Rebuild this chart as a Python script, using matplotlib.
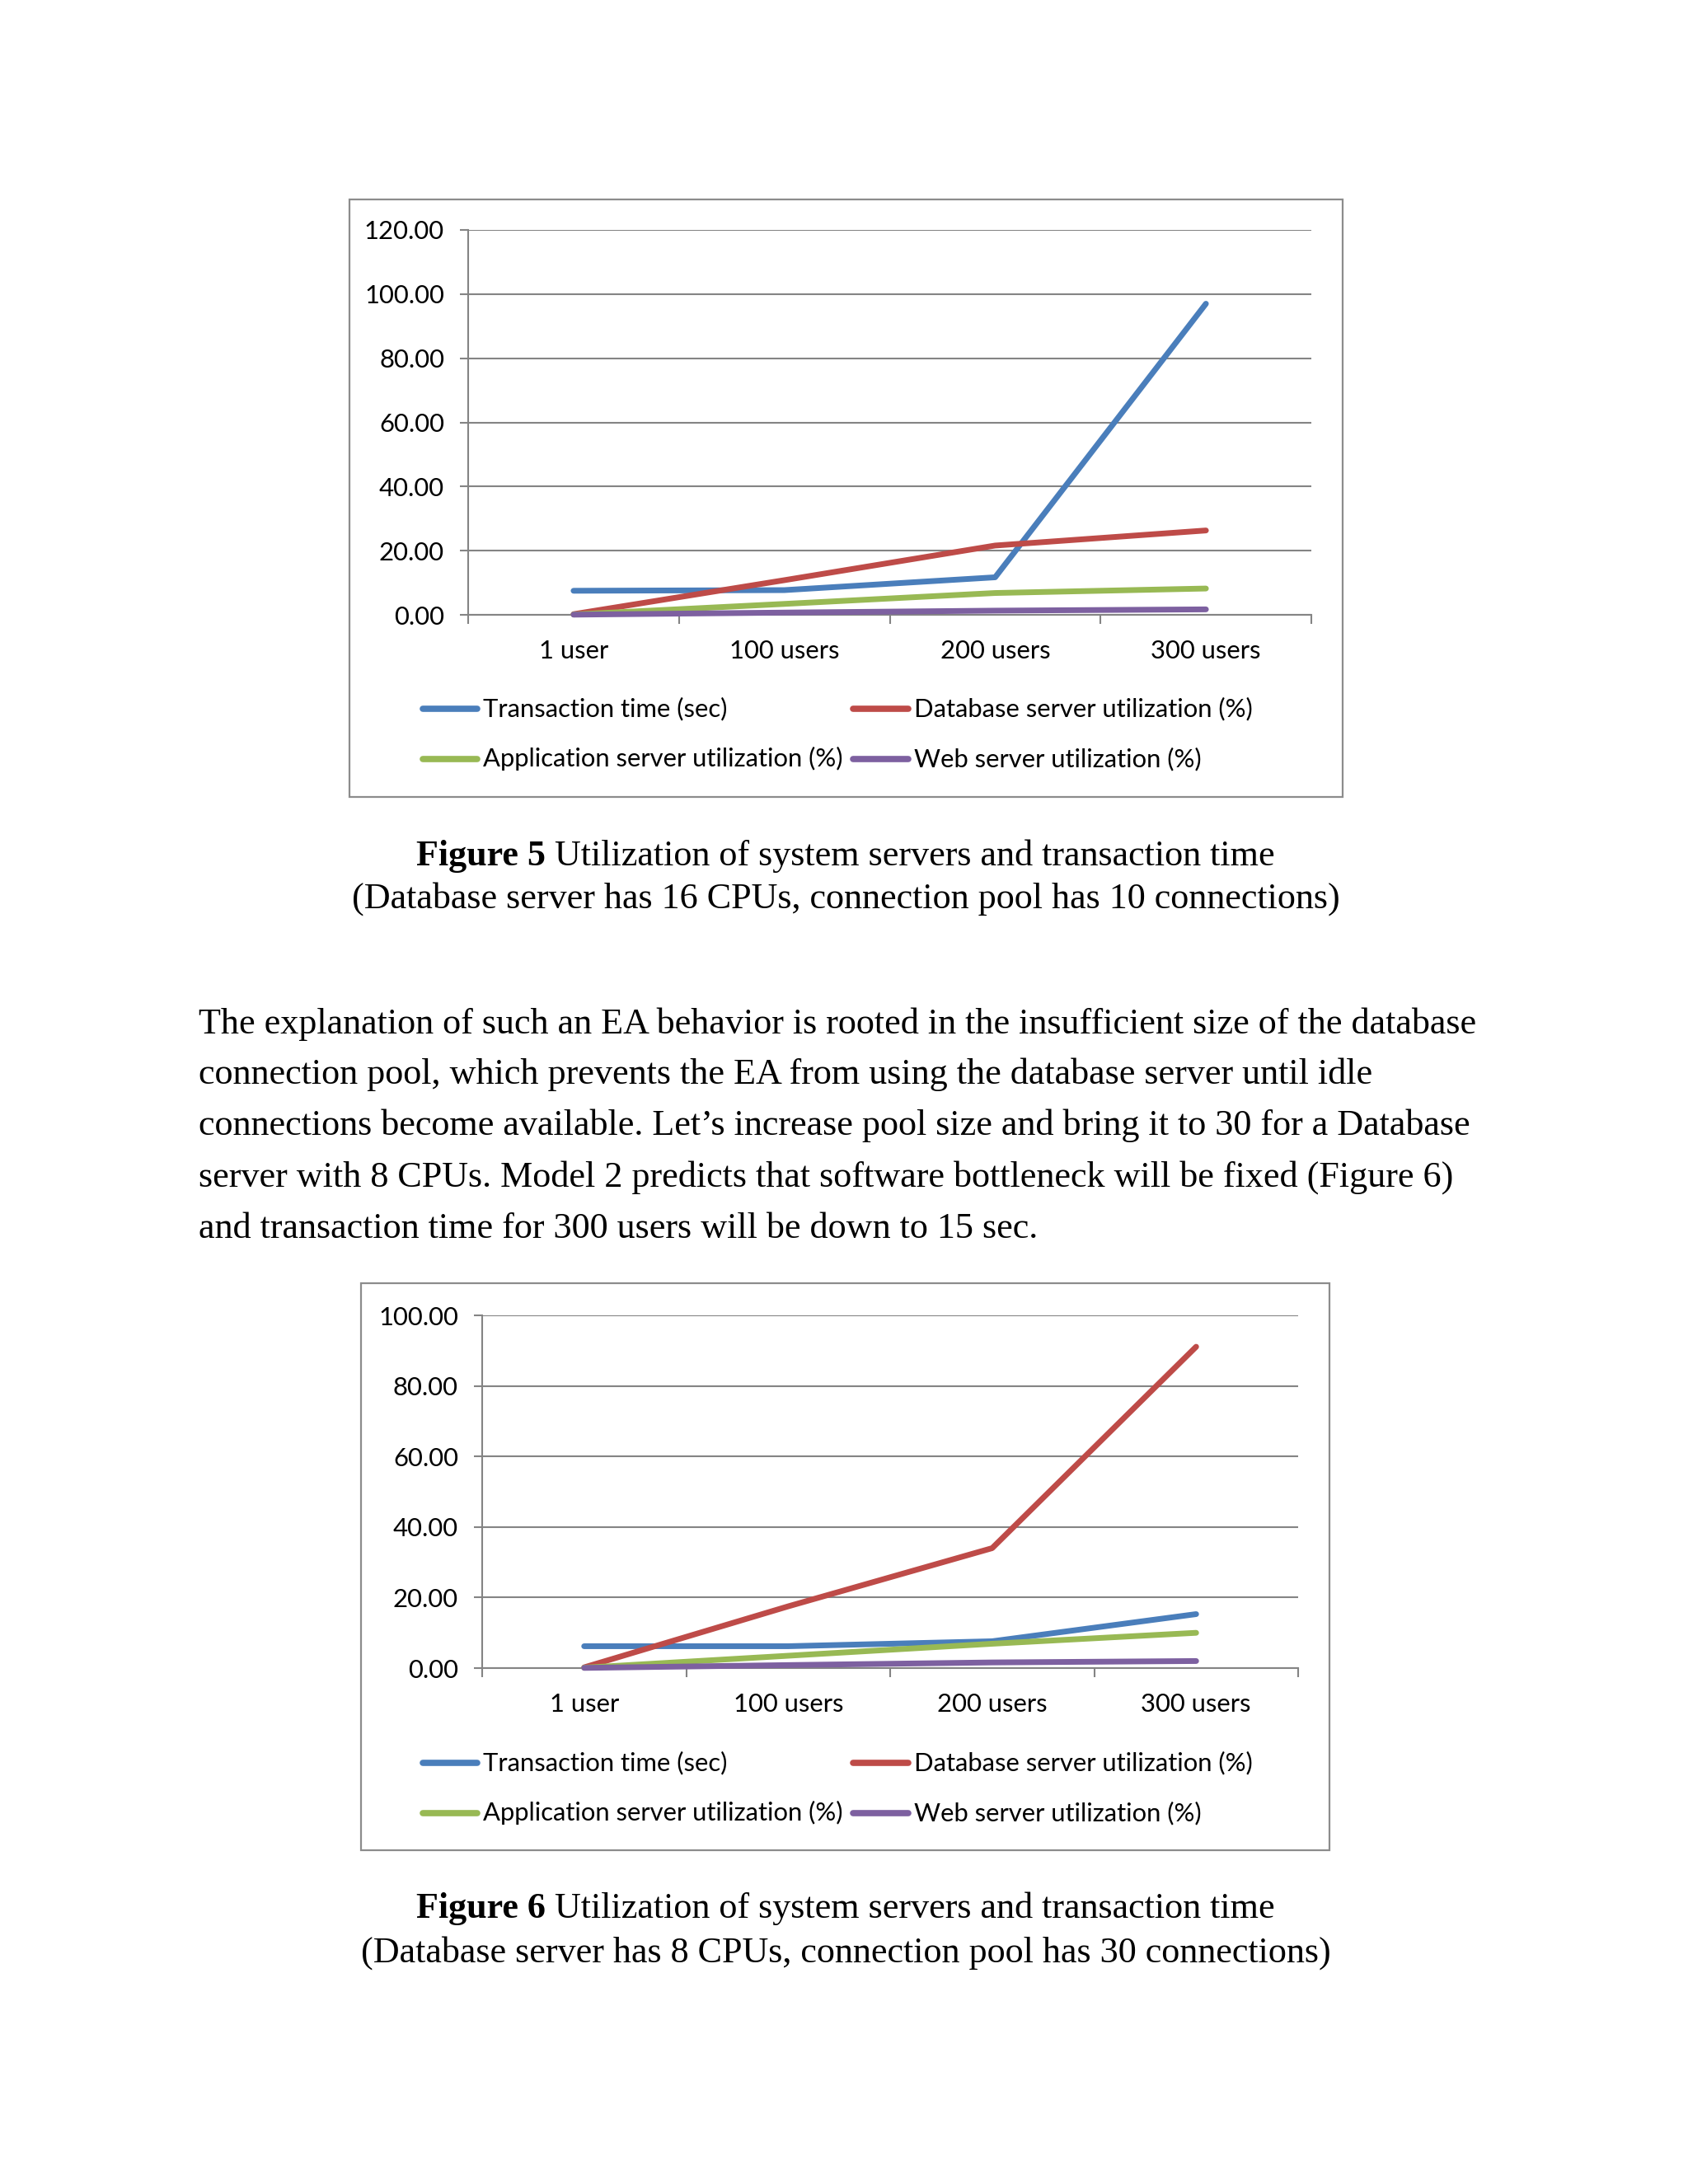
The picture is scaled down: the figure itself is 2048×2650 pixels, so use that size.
import matplotlib
matplotlib.use("Agg")
import matplotlib.pyplot as plt
from matplotlib.lines import Line2D
from matplotlib.patches import Rectangle

# ---------------- data ----------------
categories = ["1 user", "100 users", "200 users", "300 users"]
series_names = ["Transaction time (sec)", "Database server utilization (%)",
                "Application server utilization (%)", "Web server utilization (%)"]

fig5_transaction = [7.5, 7.7, 11.7, 97.0]
fig5_database = [0.2, 10.8, 21.6, 26.3]
fig5_application = [0.1, 3.4, 6.8, 8.2]
fig5_web = [0.05, 0.7, 1.3, 1.7]
fig5_yticks = [0, 20, 40, 60, 80, 100, 120]

fig6_transaction = [6.2, 6.2, 7.6, 15.3]
fig6_database = [0.2, 17.5, 34.0, 91.1]
fig6_application = [0.1, 3.5, 6.9, 10.0]
fig6_web = [0.05, 0.85, 1.6, 2.0]
fig6_yticks = [0, 20, 40, 60, 80, 100]

caption5_bold = "Figure 5"
caption5_rest = " Utilization of system servers and transaction time"
caption5_line2 = "(Database server has 16 CPUs, connection pool has 10 connections)"
caption6_bold = "Figure 6"
caption6_rest = " Utilization of system servers and transaction time"
caption6_line2 = "(Database server has 8 CPUs, connection pool has 30 connections)"

paragraph = [
    "The explanation of such an EA behavior is rooted in the insufficient size of the database",
    "connection pool, which prevents the EA from using the database server until idle",
    "connections become available. Let\u2019s increase pool size and bring it to 30 for a Database",
    "server with 8 CPUs. Model 2 predicts that software bottleneck will be fixed (Figure 6)",
    "and transaction time for 300 users will be down to 15 sec.",
]

colors = ["#4A7EBB", "#BE4B48", "#98B954", "#7D60A0"]
GRAY = "#848484"

# ---------------- layout ----------------
W, H, DPI = 2048, 2650, 100
SANS = ["Lato", "DejaVu Sans"]
SERIF = ["Liberation Serif", "DejaVu Serif"]

fig = plt.figure(figsize=(W / DPI, H / DPI), dpi=DPI)
fig.patch.set_facecolor("white")
renderer = fig.canvas.get_renderer()


def fx(x):
    return x / W


def fy(y):
    return 1 - y / H


def px2pt(p):
    return p * 72.0 / DPI


def text_width(s, **kw):
    t = fig.text(0, 0, s, **kw)
    w = t.get_window_extent(renderer=renderer).width
    t.remove()
    return w


sans_size = 20 * 297.0 / text_width("Transaction time (sec)", family=SANS, size=20)
serif_size = 30 * 1551.0 / text_width(paragraph[0], family=SERIF, size=30)


def draw_chart(box, plot, series, yticks, legend_rows, legend_cols):
    bx0, by0, bx1, by1 = box
    fig.add_artist(Rectangle((fx(bx0), fy(by1)), (bx1 - bx0) / W, (by1 - by0) / H,
                             transform=fig.transFigure, fill=False,
                             edgecolor="#8C8C8C", linewidth=1.6))
    L, T, R, B = plot
    ax = fig.add_axes([fx(L), fy(B), (R - L) / W, (B - T) / H])
    ax.set_facecolor("none")
    xs = [i + 0.5 for i in range(len(categories))]
    for vals, c in zip(series, colors):
        ax.plot(xs, vals, color=c, linewidth=5.0, solid_capstyle="round",
                solid_joinstyle="round", clip_on=False, zorder=3)
    ax.set_xlim(0, len(categories))
    ax.set_ylim(yticks[0], yticks[-1])
    ax.set_yticks(yticks)
    ax.set_yticklabels([f"{v:.2f}" for v in yticks], family=SANS, fontsize=sans_size)
    ax.set_xticks(range(len(categories) + 1))
    ax.set_xticklabels([])
    ax.set_xticks(xs, minor=True)
    ax.set_xticklabels(categories, minor=True, family=SANS, fontsize=sans_size)
    ax.tick_params(axis="x", which="major", direction="out", length=px2pt(11),
                   width=1.5, color=GRAY)
    ax.tick_params(axis="x", which="minor", length=0, pad=px2pt(30))
    ax.tick_params(axis="y", direction="out", length=px2pt(10), width=1.5,
                   color=GRAY, pad=px2pt(19))
    ax.yaxis.grid(True, color=GRAY, linewidth=1.5)
    ax.set_axisbelow(True)
    for s in ("top", "right"):
        ax.spines[s].set_visible(False)
    for s in ("left", "bottom"):
        ax.spines[s].set_color(GRAY)
        ax.spines[s].set_linewidth(1.5)
    # legend (2 x 2)
    for i, name in enumerate(series_names):
        row, col = divmod(i, 2)
        y = legend_rows[row]
        lx0, lx1, tx = legend_cols[col]
        fig.add_artist(Line2D([fx(lx0), fx(lx1)], [fy(y), fy(y)],
                              transform=fig.transFigure, color=colors[i],
                              linewidth=5.5, solid_capstyle="round"))
        fig.text(fx(tx), fy(y + 9), name, family=SANS, fontsize=sans_size,
                 ha="left", va="baseline")
    return ax


legend_cols = [(513, 579, 586), (1035, 1102, 1109)]

draw_chart((424, 242, 1629, 967), (568, 279, 1591, 746),
           [fig5_transaction, fig5_database, fig5_application, fig5_web],
           fig5_yticks, [860, 921], legend_cols)

draw_chart((438, 1557, 1613, 2245), (585, 1596, 1575, 2024),
           [fig6_transaction, fig6_database, fig6_application, fig6_web],
           fig6_yticks, [2139, 2200], legend_cols)


# ---------------- captions & paragraph ----------------
def caption(bold, rest, y, cx=1026):
    wb = text_width(bold, family=SERIF, size=serif_size, weight="bold")
    wr = text_width(rest, family=SERIF, size=serif_size)
    x0 = cx - (wb + wr) / 2
    fig.text(fx(x0), fy(y), bold, family=SERIF, fontsize=serif_size,
             weight="bold", ha="left", va="baseline")
    fig.text(fx(x0 + wb), fy(y), rest, family=SERIF, fontsize=serif_size,
             ha="left", va="baseline")


caption(caption5_bold, caption5_rest, 1050)
fig.text(fx(1026), fy(1102), caption5_line2, family=SERIF, fontsize=serif_size,
         ha="center", va="baseline")
caption(caption6_bold, caption6_rest, 2327)
fig.text(fx(1026), fy(2381), caption6_line2, family=SERIF, fontsize=serif_size,
         ha="center", va="baseline")

para_baselines = [1254, 1315, 1377, 1440, 1502]
for line, yb in zip(paragraph, para_baselines):
    fig.text(fx(241), fy(yb), line, family=SERIF, fontsize=serif_size,
             ha="left", va="baseline")

fig.savefig("out.png", dpi=DPI, facecolor="white")
